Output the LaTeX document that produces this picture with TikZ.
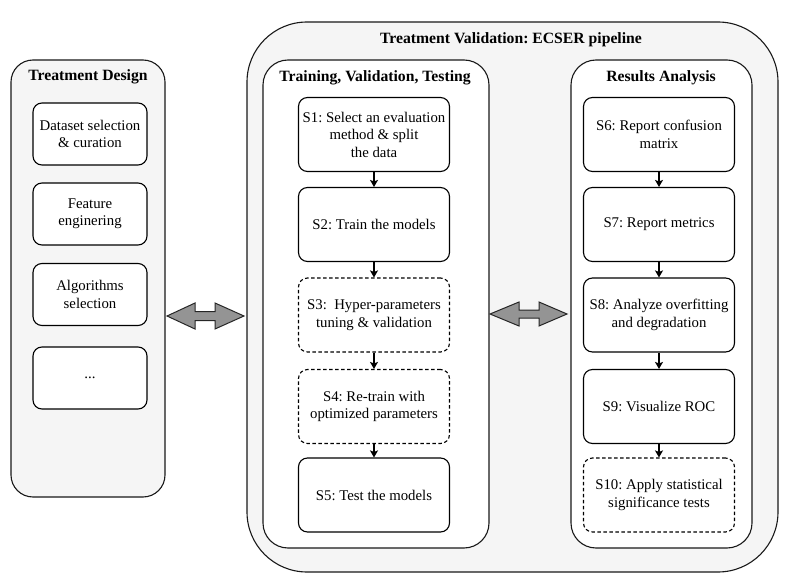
\documentclass[tikz,border=0pt]{standalone}
\usepackage{fontspec}
\setmainfont{Liberation Serif}
\usetikzlibrary{arrows.meta}
\frenchspacing
\begin{document}
\begin{tikzpicture}[x=1pt,y=-1pt,
  panel/.style={draw=black!90,line width=1.1pt,fill=#1},
  stepbox/.style={draw=black,line width=1.1pt,fill=white,rounded corners=9pt,
    minimum width=151pt,minimum height=74pt,align=center,inner sep=1pt,
    font=\fontsize{14.8}{17.5}\selectfont},
  dbox/.style={stepbox,dashed,dash pattern=on 3.5pt off 2.5pt},
  lbox/.style={draw=black,line width=1.1pt,fill=white,rounded corners=9pt,
    minimum width=114pt,minimum height=62pt,align=center,inner sep=1pt,
    font=\fontsize{14.8}{17.5}\selectfont},
  ttl/.style={font=\bfseries\fontsize{15.7}{18}\selectfont},
  arr/.style={line width=1.1pt,-{Stealth[length=7pt,width=8pt,inset=1.5pt]}},
  dbl/.style={draw=black!85,line width=1pt,fill=black!42,line join=miter}]
\useasboundingbox (0,0) rectangle (788,583);

% left panel
\node[panel=black!4,rounded corners=22pt,minimum width=154pt,minimum height=437pt] (design) at (88,278.5) {};
\node[ttl] (designT) at (88,77) {Treatment Design};
\node[lbox] (d1) at (90,134) {Dataset selection\\\& curation};
\node[lbox] (d2) at (90,214) {Feature\\enginering};
\node[lbox] (d3) at (90,294.5) {Algorithms\\selection};
\node[lbox] (d4) at (90,378) {...};

% outer validation panel
\node[panel=black!4,rounded corners=60pt,minimum width=531pt,minimum height=550pt] (valid) at (512.5,297) {};
\node[ttl] (validT) at (511,40) {Treatment Validation: ECSER pipeline};

% inner panels
\node[panel=white,rounded corners=25pt,minimum width=226pt,minimum height=488pt] (train) at (376,304) {};
\node[ttl] (trainT) at (375,78) {Training, Validation, Testing};
\node[panel=white,rounded corners=25pt,minimum width=181pt,minimum height=488pt] (res) at (661.5,304) {};
\node[ttl] (resT) at (661,78) {Results Analysis};

% left column steps
\node[stepbox] (s1) at (374,134.5) {S1: Select an evaluation\\method \& split\\the data};
\node[stepbox] (s2) at (374,224.5) {S2: Train the models};
\node[dbox] (s3) at (374,315) {S3:\ \ Hyper-parameters\\tuning \& validation};
\node[dbox] (s4) at (374,406.5) {S4: Re-train with\\optimized parameters};
\node[stepbox] (s5) at (374,495) {S5: Test the models};

% right column steps
\node[stepbox] (s6) at (659,134.5) {S6: Report confusion\\matrix};
\node[stepbox] (s7) at (659,224.5) {S7: Report metrics};
\node[stepbox] (s8) at (659,315) {S8: Analyze overfitting\\and degradation};
\node[stepbox] (s9) at (659,406.5) {S9: Visualize ROC};
\node[dbox] (s10) at (659,495) {S10: Apply statistical\\significance tests};

\foreach \a/\b in {s1/s2,s2/s3,s3/s4,s4/s5,s6/s7,s7/s8,s8/s9,s9/s10}
  \draw[arr] (\a.south) -- (\b.north);

% double arrows
\draw[dbl] (167,316) -- (195,303) -- (195,311.5) -- (215,311.5) -- (215,303) -- (244,316)
  -- (215,329) -- (215,320.5) -- (195,320.5) -- (195,329) -- cycle;
\draw[dbl] (490,314) -- (519,302) -- (519,310) -- (539,310) -- (539,302) -- (567,314)
  -- (539,326) -- (539,318) -- (519,318) -- (519,326) -- cycle;
\end{tikzpicture}
\end{document}
